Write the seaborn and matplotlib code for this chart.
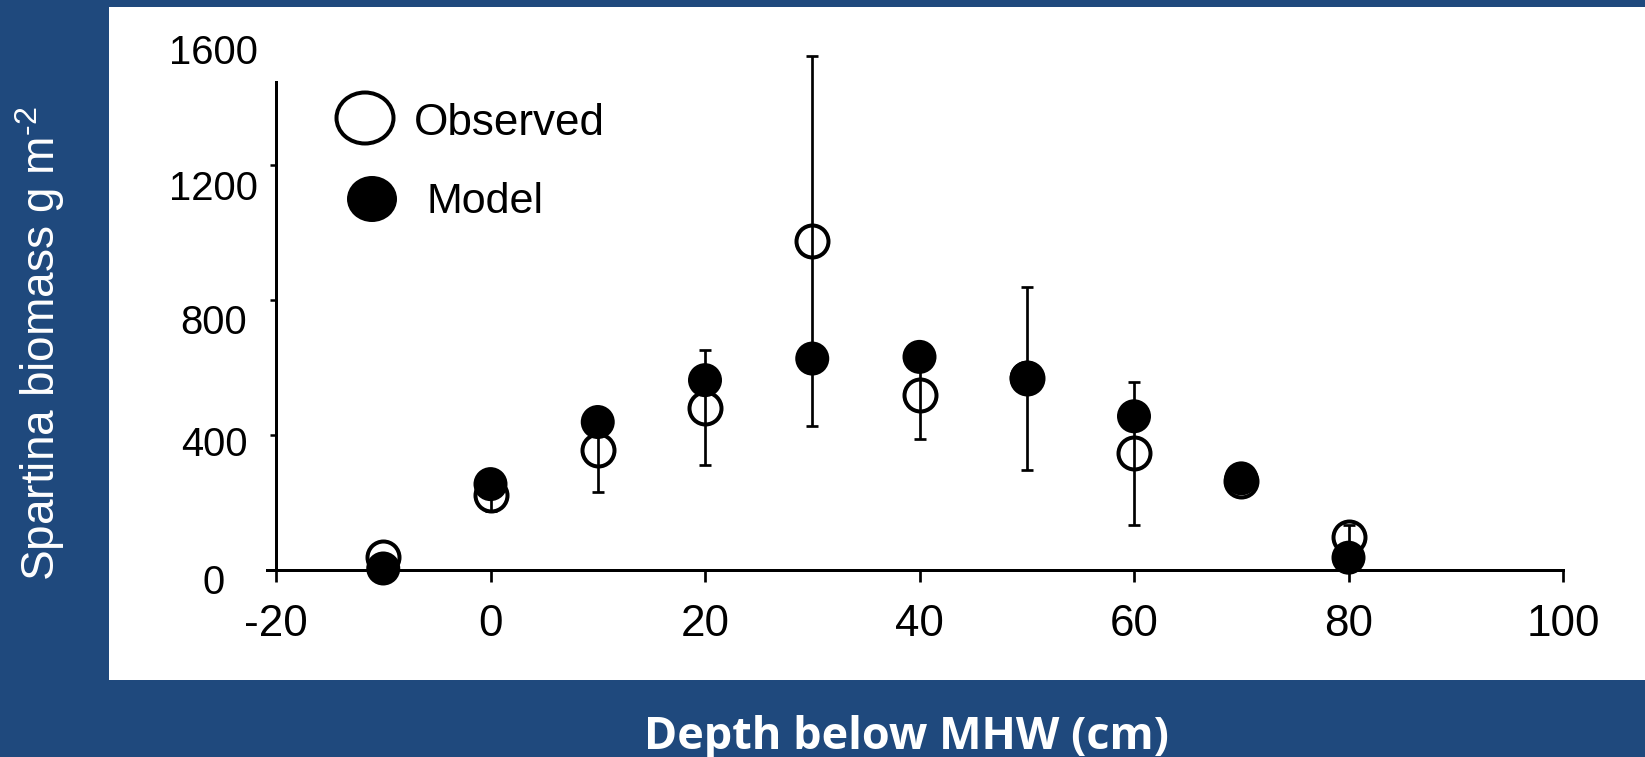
import numpy as np
import pandas as pd
import matplotlib
matplotlib.use("Agg")
import matplotlib.pyplot as plt
import matplotlib.transforms as mtransforms
from matplotlib.patches import Rectangle, Ellipse
import seaborn as sns

# ---- data ----
depth = [-10, 0, 10, 20, 30, 40, 50, 60, 70, 80]
observed = [36, 220, 353, 479, 974, 516, 566, 344, 262, 97]
observed_err = [0, 48, 123, 170, 548, 128, 272, 213, 0, 34]
model = [3, 253, 437, 561, 625, 630, 568, 454, 270, 35]

xticks = [-20, 0, 20, 40, 60, 80, 100]
yticks = [0, 400, 800, 1200, 1600]
xlabel = "Depth below MHW (cm)"
ylabel = "Spartina biomass g m$^{\\text{-2}}$"
legend_labels = ["Observed", "Model"]

BLUE = "#1F497D"
W, H, DPI = 1645, 757, 72

sns.set_theme(style="white")
plt.rcParams["font.family"] = ["Liberation Sans", "DejaVu Sans"]
plt.rcParams["mathtext.fontset"] = "custom"
plt.rcParams["mathtext.rm"] = "Liberation Sans"
plt.rcParams["mathtext.it"] = "Liberation Sans:italic"

fig = plt.figure(figsize=(W / DPI, H / DPI), dpi=DPI, facecolor=BLUE)

def fx(px):
    return px / W

def fy(py):
    return (H - py) / H

# white panel
fig.add_artist(Rectangle((fx(109), fy(680)), (W - 109) / W, (680 - 7) / H,
                         transform=fig.transFigure, facecolor="white",
                         edgecolor="none", zorder=-10))

ax = fig.add_axes([fx(276), fy(569.5), (1563 - 276) / W, 540 / H])
ax.set_facecolor("none")

df = pd.DataFrame({"depth": depth, "observed": observed,
                   "err": observed_err, "model": model})

sns.scatterplot(data=df, x="depth", y="observed", ax=ax, s=32 ** 2,
                facecolor="white", edgecolor="black", linewidth=4,
                zorder=3, clip_on=False, legend=False)
ax.errorbar(df["depth"], df["observed"], yerr=df["err"], fmt="none",
            ecolor="black", elinewidth=2.7, capsize=6, capthick=2.7,
            zorder=4, clip_on=False)
sns.scatterplot(data=df, x="depth", y="model", ax=ax, s=34 ** 2,
                color="black", edgecolor="none", linewidth=0,
                zorder=5, clip_on=False, legend=False)

ax.set_xlim(-20, 100)
ax.set_ylim(0, 1600)
ax.set_xlabel("")
ax.set_ylabel("")

for side in ["top", "right"]:
    ax.spines[side].set_visible(False)
for side in ["left", "bottom"]:
    ax.spines[side].set_color("black")
    ax.spines[side].set_linewidth(3)
ax.spines["left"].set_bounds(0, 1444)
ax.spines["bottom"].set_bounds(-20.8, 100)

ax.set_xticks(xticks)
ax.set_xticklabels([str(v) for v in xticks])
ax.set_yticks(yticks)
ax.set_yticklabels([str(v) for v in yticks])
ax.tick_params(axis="x", direction="out", length=12, width=2.7,
               color="black", labelsize=44, pad=22, labelcolor="black",
               bottom=True)
ax.tick_params(axis="y", direction="out", length=6, width=2.5,
               color="black", labelsize=40, pad=56, labelcolor="black",
               left=True)
ax.yaxis.get_major_ticks()[-1].tick1line.set_visible(False)
label_drop_px = [9, 6, 20, 21, 19]
for lbl, dy in zip(ax.get_yticklabels(), label_drop_px):
    lbl.set_horizontalalignment("center")
    off = mtransforms.ScaledTranslation(0, -dy / 72, fig.dpi_scale_trans)
    lbl.set_transform(lbl.get_transform() + off)

# legend (manual, to match the reference layout)
fig.add_artist(Ellipse((fx(365), fy(118)), 57 / W, 51 / H,
                       transform=fig.transFigure, facecolor="white",
                       edgecolor="black", linewidth=4, zorder=10))
fig.add_artist(Ellipse((fx(372), fy(199)), 50 / W, 46 / H,
                       transform=fig.transFigure, facecolor="black",
                       edgecolor="none", zorder=10))
fig.text(fx(414), fy(135), legend_labels[0], fontsize=44, color="black",
         ha="left", va="baseline")
fig.text(fx(427), fy(213), legend_labels[1], fontsize=43, color="black",
         ha="left", va="baseline")

# axis titles on blue band
fig.text(fx(40), fy(344), ylabel, fontsize=46, color="white",
         rotation=90, ha="center", va="center")
fig.text(fx(906.5), fy(749), xlabel, fontsize=45, color="white",
         fontweight="bold", family=["Open Sans", "DejaVu Sans"],
         ha="center", va="baseline")

fig.savefig("out.png", dpi=DPI, facecolor=BLUE)
